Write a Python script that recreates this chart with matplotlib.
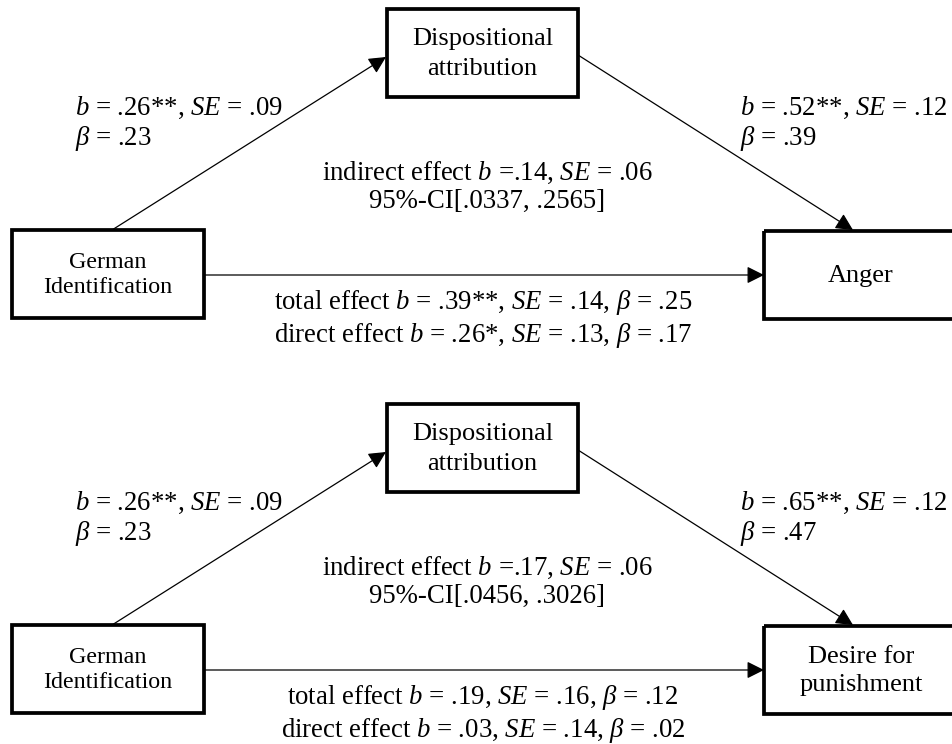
import matplotlib
matplotlib.use("Agg")
import matplotlib.pyplot as plt
from matplotlib.patches import Rectangle, FancyArrowPatch

# ── Mediation model results (two outcomes, same predictor and mediator) ──────
predictor = "German\nIdentification"
mediator = "Dispositional\nattribution"
outcomes = ["Anger", "Desire for\npunishment"]

a_paths = [r"$b$ = .26**, $SE$ = .09" + "\n" + r"$\beta$ = .23",
           r"$b$ = .26**, $SE$ = .09" + "\n" + r"$\beta$ = .23"]
b_paths = [r"$b$ = .52**, $SE$ = .12" + "\n" + r"$\beta$ = .39",
           r"$b$ = .65**, $SE$ = .12" + "\n" + r"$\beta$ = .47"]
indirect = [r"indirect effect $b$ =.14, $SE$ = .06" + "\n" + "95%-CI[.0337, .2565]",
            r"indirect effect $b$ =.17, $SE$ = .06" + "\n" + "95%-CI[.0456, .3026]"]
total_direct = [r"total effect $b$ = .39**, $SE$ = .14, $\beta$ = .25" + "\n"
                + r"direct effect $b$ = .26*, $SE$ = .13, $\beta$ = .17",
                r"total effect $b$ = .19, $SE$ = .16, $\beta$ = .12" + "\n"
                + r"direct effect $b$ = .03, $SE$ = .14, $\beta$ = .02"]

panel_offsets = [0, 395]

plt.rcParams["font.family"] = ["Liberation Serif", "DejaVu Serif"]
plt.rcParams["mathtext.fontset"] = "custom"
plt.rcParams["mathtext.rm"] = "Liberation Serif"
plt.rcParams["mathtext.it"] = "Liberation Serif:italic"
plt.rcParams["mathtext.bf"] = "Liberation Serif:bold"

W, H = 953, 744
fig = plt.figure(figsize=(W / 100, H / 100), dpi=100)
ax = fig.add_axes([0, 0, 1, 1])
ax.set_xlim(0, W)
ax.set_ylim(H, 0)
ax.axis("off")

BOX_LW = 2.7
LINE_LW = 0.9
FS = 19.3
LS = 1.18


def box(x0, y0, x1, y1, label, fs, ls):
    ax.add_patch(Rectangle((x0, y0), x1 - x0, y1 - y0, fill=False,
                           edgecolor="black", linewidth=BOX_LW, zorder=3,
                           clip_on=False))
    ax.text((x0 + x1) / 2, (y0 + y1) / 2 + 1, label, ha="center", va="center",
            fontsize=fs, linespacing=ls, zorder=4)


def arrow(p0, p1):
    ax.add_patch(FancyArrowPatch(p0, p1, arrowstyle="-|>", mutation_scale=26,
                                 shrinkA=0, shrinkB=0, linewidth=LINE_LW,
                                 color="black", zorder=2))


for dy, outcome, a_lab, b_lab, ind_lab, td_lab in zip(
        panel_offsets, outcomes, a_paths, b_paths, indirect, total_direct):
    # boxes: predictor (left), mediator (top), outcome (right)
    box(12, 230 + dy, 204, 318 + dy, predictor, 17.3, 1.2)
    box(387, 9 + dy, 578, 97 + dy, mediator, 19, 1.45)
    box(764, 231 + dy, 958, 319 + dy, outcome, 19, 1.35)

    # paths
    arrow((112, 230 + dy), (386, 57 + dy))
    arrow((578, 55 + dy), (853, 230 + dy))
    arrow((204, 275 + dy), (764, 275 + dy))

    # coefficient labels
    ax.text(75, 124 + dy, a_lab, ha="left", va="center", fontsize=FS,
            linespacing=LS)
    ax.text(740, 124 + dy, b_lab, ha="left", va="center", fontsize=FS,
            linespacing=LS)
    ax.text(487, 187 + dy, ind_lab, ha="center", va="center", fontsize=FS,
            linespacing=LS)
    ax.text(483, 319 + dy, td_lab, ha="center", va="center", fontsize=FS,
            linespacing=LS)

fig.savefig("out.png", dpi=100)
